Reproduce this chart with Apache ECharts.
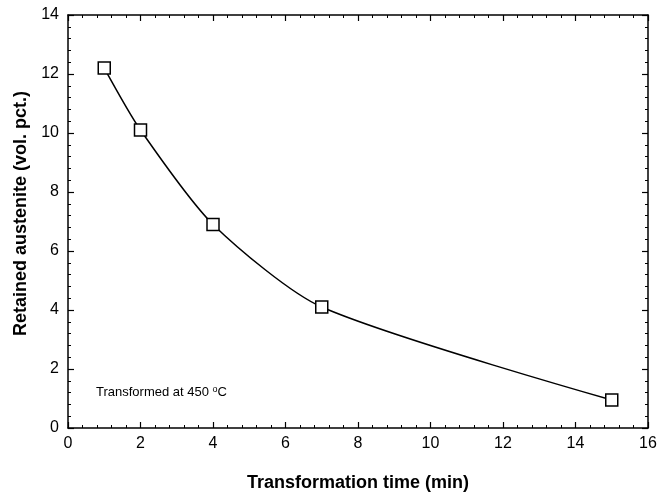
<!DOCTYPE html>
<html>
<head>
<meta charset="utf-8">
<script src="https://cdn.jsdelivr.net/npm/echarts@6/dist/echarts.min.js"></script>
<style>
  html, body { margin: 0; padding: 0; background: #fff; }
  #chart { width: 658px; height: 495px; }
</style>
</head>
<body>
<div id="chart"></div>
<script>
// transformation time (min) vs retained austenite (vol. pct.)
const timeMin = [1, 2, 4, 7, 15]
const austenite = [12.2, 10.1, 6.9, 4.1, 0.95]
const xTicks = [0, 2, 4, 6, 8, 10, 12, 14, 16]
const yTicks = [0, 2, 4, 6, 8, 10, 12, 14]

const chart = echarts.init(document.getElementById('chart'))

const font = '"Liberation Sans", Arial, sans-serif'
const axisCommon = {
  axisLine: { show: true, onZero: false, lineStyle: { color: '#000', width: 1.5 } },
  axisTick: { show: true, inside: true, length: 6, lineStyle: { color: '#000', width: 1.2 } },
  minorTick: { show: true, splitNumber: 5, length: 3, lineStyle: { color: '#000', width: 1 } },
  splitLine: { show: false }
}
const titleStyle = { fontFamily: font, fontSize: 18, fontWeight: 'bold', color: '#000' }
const labelStyle = { fontFamily: font, fontSize: 16, color: '#000' }

const option = {
  animation: false,
  backgroundColor: '#fff',
  grid: { left: 68, right: 10, top: 15, bottom: 67, containLabel: false, outerBoundsMode: 'none' },
  xAxis: [
    Object.assign({
      type: 'value', min: xTicks[0], max: xTicks[xTicks.length - 1], interval: 2,
      name: 'Transformation time (min)', nameLocation: 'middle', nameGap: 46,
      nameTextStyle: titleStyle,
      axisLabel: Object.assign({ margin: 8 }, labelStyle)
    }, axisCommon),
    Object.assign({
      type: 'value', position: 'top', min: xTicks[0], max: xTicks[xTicks.length - 1], interval: 2,
      axisLabel: { show: false }
    }, axisCommon)
  ],
  yAxis: [
    Object.assign({
      type: 'value', min: yTicks[0], max: yTicks[yTicks.length - 1], interval: 2,
      name: 'Retained austenite (vol. pct.)', nameLocation: 'middle', nameGap: 37,
      nameTextStyle: Object.assign({ padding: [0, 0, 0, 16] }, titleStyle),
      axisLabel: Object.assign({ margin: 9 }, labelStyle)
    }, axisCommon),
    Object.assign({
      type: 'value', position: 'right', min: yTicks[0], max: yTicks[yTicks.length - 1], interval: 2,
      axisLabel: { show: false }
    }, axisCommon)
  ],
  series: [{
    type: 'line',
    data: timeMin.map((t, i) => [t, austenite[i]]),
    smooth: 0.25,
    symbol: 'rect',
    symbolSize: 12,
    lineStyle: { color: '#000', width: 1.5 },
    itemStyle: { color: '#fff', borderColor: '#000', borderWidth: 1.5 },
    z: 5
  }],
  graphic: [{
    type: 'text',
    left: 96,
    top: 385,
    style: {
      text: 'Transformed at 450 {s|o}C',
      fontFamily: font,
      fontSize: 13,
      fill: '#000',
      rich: { s: { fontSize: 9, verticalAlign: 'top', padding: [0, 0, 6, 0] } }
    }
  }]
}

chart.setOption(option)
</script>
</body>
</html>
